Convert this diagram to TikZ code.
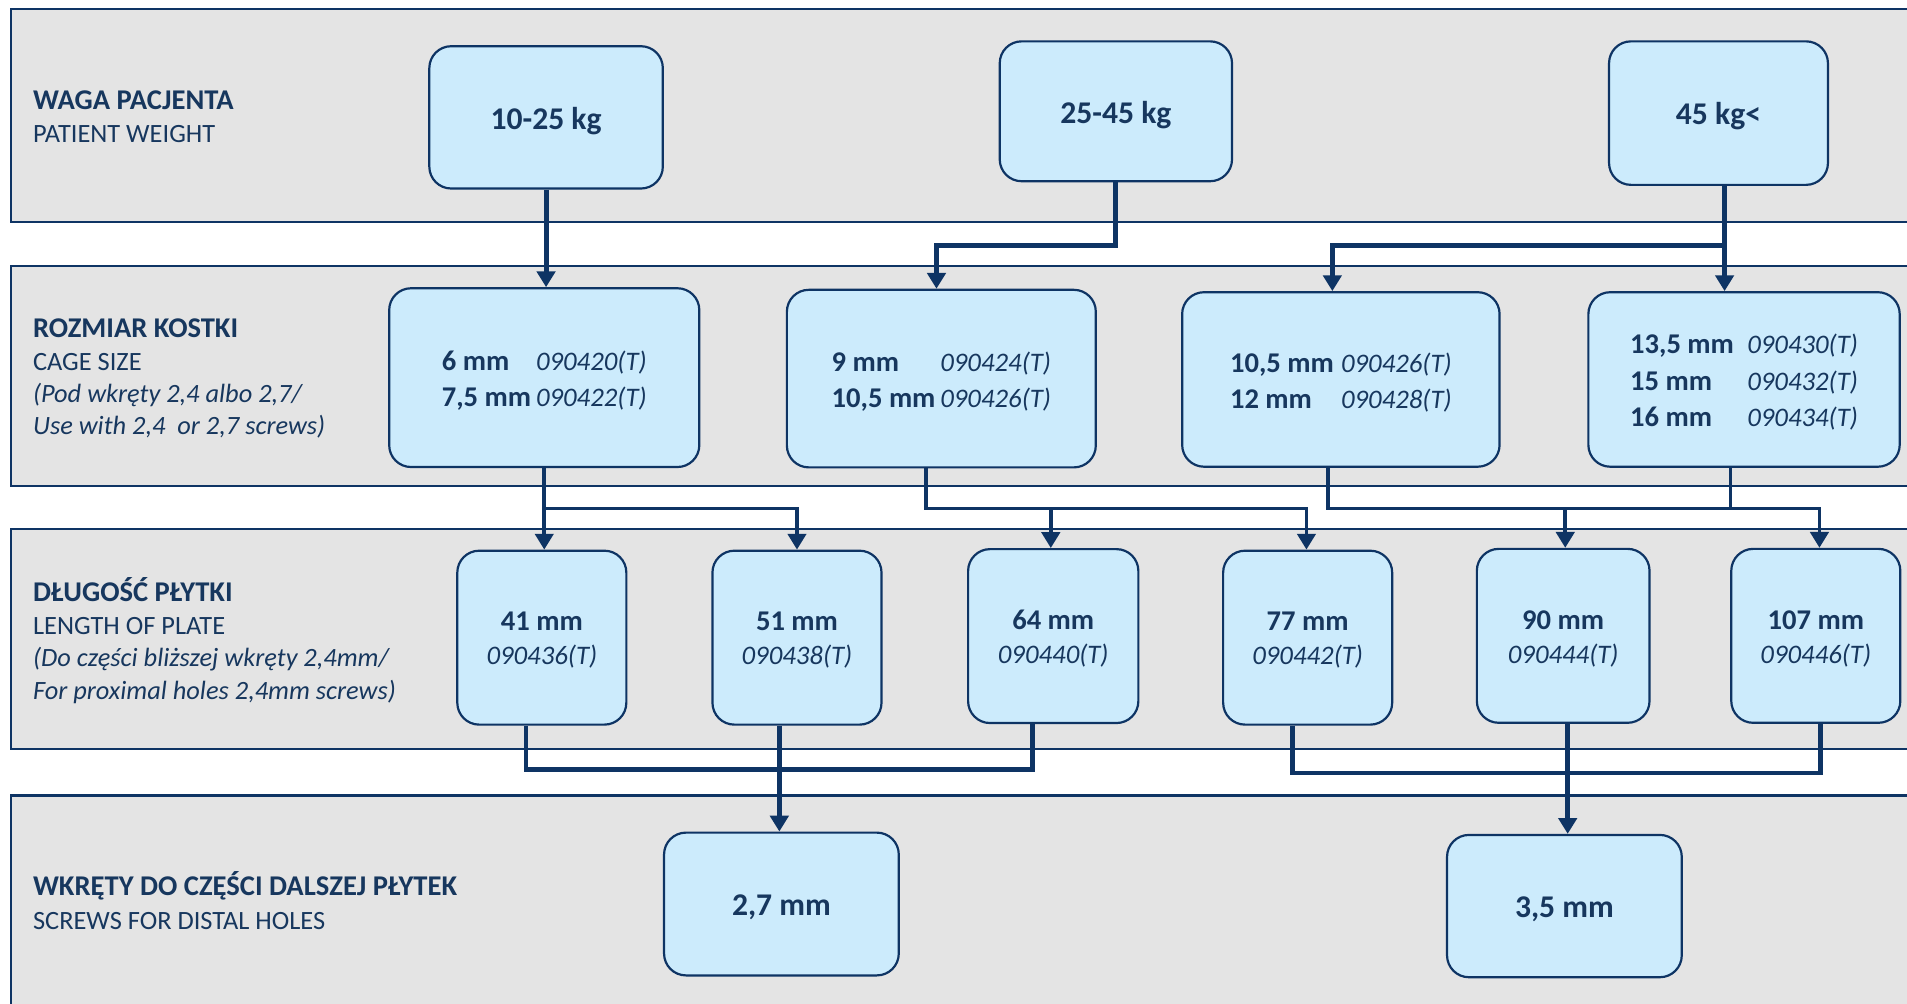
\documentclass[tikz,border=0pt]{standalone}
\usepackage{fontspec}
\setmainfont{Carlito}
\usetikzlibrary{arrows.meta}
\definecolor{lineblue}{RGB}{14,52,100}
\definecolor{txt}{RGB}{23,55,94}
\definecolor{boxfill}{RGB}{204,235,252}
\definecolor{bandfill}{RGB}{228,228,228}
\newcommand\fBig{\fontsize{26}{31}\selectfont\bfseries}
\newcommand\fMid{\fontsize{23.5}{29.75}\selectfont\bfseries}
\newcommand\fRow{\fontsize{23.5}{28}\selectfont\bfseries}
\newcommand\fCode{\fontsize{22}{28}\selectfont\mdseries\itshape}
\newcommand\fLabB{\fontsize{23.5}{27.5}\selectfont\bfseries}
\newcommand\fLabR{\fontsize{21.7}{27.5}\selectfont}
\newcommand\fLabI{\fontsize{21.7}{27.5}\selectfont\itshape}
\newcommand\lowr[1]{\raisebox{-2.8pt}[\height][\depth]{#1}}
\begin{document}
\begin{tikzpicture}[x=1pt,y=-1pt,
  band/.style={draw=lineblue, line width=2pt, fill=bandfill},
  box/.style={draw=lineblue, line width=1.8pt, fill=boxfill, rounded corners=18pt, text=txt, inner sep=0pt, align=center},
  topbox/.style={box, minimum width=192pt, minimum height=117pt, font=\fBig},
  midbox/.style={box, minimum width=256pt, minimum height=145pt, font=\fMid},
  lenbox/.style={box, minimum width=139pt, minimum height=143pt, font=\fRow},
  lab/.style={anchor=base west, inner sep=0pt, text=txt},
  c1/.style={draw=lineblue, line width=4.2pt},
  c2/.style={draw=lineblue, line width=3pt},
  c3/.style={draw=lineblue, line width=3.8pt},
  arr/.style={-{Triangle[length=13pt,width=15pt]}},
]
\useasboundingbox (0,0) rectangle (1568,825);
\clip (0,0) rectangle (1568,825);
% bands
\draw[band] (9,7.5) rectangle (1600,182.5);
\draw[band] (9,218.5) rectangle (1600,399.5);
\draw[band] (9,435) rectangle (1600,616);
\draw[band] (9,654) rectangle (1600,860);
% row labels
\node[lab, font=\fLabB] (L1a) at (27,89.8) {WAGA PACJENTA};
\node[lab, font=\fLabR] (L1b) at (27,117.3) {PATIENT WEIGHT};
\node[lab, font=\fLabB] (L2a) at (27,277.6) {ROZMIAR KOSTKI};
\node[lab, font=\fLabR] (L2b) at (27,304.5) {CAGE SIZE};
\node[lab, font=\fLabI] (L2c) at (27,331) {(Pod wkręty 2,4 albo 2,7/};
\node[lab, font=\fLabI] (L2d) at (27,357.3) {Use with 2,4\ \ or 2,7 screws)};
\node[lab, font=\fLabB] (L3a) at (27,494.5) {DŁUGOŚĆ PŁYTKI};
\node[lab, font=\fLabR] (L3b) at (27,521.5) {LENGTH OF PLATE};
\node[lab, font=\fLabI] (L3c) at (27,547.8) {(Do części bliższej wkręty 2,4mm/};
\node[lab, font=\fLabI] (L3d) at (27,575) {For proximal holes 2,4mm screws)};
\node[lab, font=\fLabB] (L4a) at (27,736.5) {WKRĘTY DO CZĘŚCI DALSZEJ PŁYTEK};
\node[lab, font=\fLabR] (L4b) at (27,764) {SCREWS FOR DISTAL HOLES};
% row 1
\node[topbox] (A1) at (449,96.5) {\lowr{10-25 kg}};
\node[topbox, minimum width=191pt, minimum height=115pt] (A2) at (917.5,91.5) {\lowr{25-45 kg}};
\node[topbox, minimum width=180pt, minimum height=118pt] (A3) at (1413,93) {\lowr{45 kg<}};
% row 2
\node[midbox, minimum width=255pt, minimum height=147pt] (B1) at (447.5,310.5)
  {\lowr{\begin{tabular}{@{}l@{\hspace{4pt}}l@{}}6 mm & \fCode 090420(T)\\ 7,5 mm & \fCode 090422(T)\end{tabular}}};
\node[midbox, minimum width=254pt, minimum height=146pt] (B2) at (774,311.3)
  {\lowr{\begin{tabular}{@{}l@{\hspace{4pt}}l@{}}9 mm & \fCode 090424(T)\\ 10,5 mm & \fCode 090426(T)\end{tabular}}};
\node[midbox, minimum width=261pt, minimum height=143.5pt] (B3) at (1102.5,312)
  {\lowr{\begin{tabular}{@{}l@{\hspace{6pt}}l@{}}10,5 mm & \fCode 090426(T)\\ 12 mm & \fCode 090428(T)\end{tabular}}};
\node[midbox, minimum width=256pt, minimum height=143.5pt] (B4) at (1434,312)
  {\lowr{\begin{tabular}{@{}l@{\hspace{11pt}}l@{}}13,5 mm & \fCode 090430(T)\\ 15 mm & \fCode 090432(T)\\ 16 mm & \fCode 090434(T)\end{tabular}}};
% row 3
\node[lenbox] (C1) at (445.5,524.3) {\lowr{\begin{tabular}{@{}c@{}}41 mm\\ \fCode 090436(T)\end{tabular}}};
\node[lenbox] (C2) at (655.3,524.3) {\lowr{\begin{tabular}{@{}c@{}}51 mm\\ \fCode 090438(T)\end{tabular}}};
\node[lenbox, minimum width=140pt] (C3) at (866,523) {\lowr{\begin{tabular}{@{}c@{}}64 mm\\ \fCode 090440(T)\end{tabular}}};
\node[lenbox] (C4) at (1075.2,524.3) {\lowr{\begin{tabular}{@{}c@{}}77 mm\\ \fCode 090442(T)\end{tabular}}};
\node[lenbox, minimum width=142pt] (C5) at (1285.3,522.8) {\lowr{\begin{tabular}{@{}c@{}}90 mm\\ \fCode 090444(T)\end{tabular}}};
\node[lenbox] (C6) at (1493,522.8) {\lowr{\begin{tabular}{@{}c@{}}107 mm\\ \fCode 090446(T)\end{tabular}}};
% row 4
\node[topbox, minimum width=193pt, minimum height=117.4pt] (D1) at (642.5,743.3) {\lowr{2,7 mm}};
\node[topbox, minimum width=193pt, minimum height=117pt] (D2) at (1286.3,745) {\lowr{3,5 mm}};
% connector helper points
\coordinate (r1) at (0,201.5);
\coordinate (r2) at (0,418);
\coordinate (r3a) at (0,632.5);
\coordinate (r3b) at (0,635.6);
\coordinate (b2in) at ([xshift=-4pt]B2.north);
\coordinate (a3out) at ([xshift=5pt]A3.south);
\coordinate (b3in) at ([xshift=-7pt]B3.north);
\coordinate (c1in) at (B1.south |- C1.north);
\coordinate (b2out) at ([xshift=-12.4pt]B2.south);
\coordinate (c3in) at ([xshift=-2pt]C3.north);
\coordinate (c4in) at ([xshift=-1pt]C4.north);
\coordinate (b3out) at ([xshift=-10.5pt]B3.south);
\coordinate (b4out) at ([xshift=-11pt]B4.south);
\coordinate (c5in) at ([xshift=1.7pt]C5.north);
\coordinate (c6in) at ([xshift=3pt]C6.north);
\coordinate (c1out) at ([xshift=-13pt]C1.south);
\coordinate (c2out) at ([xshift=-14.5pt]C2.south);
\coordinate (c3out) at ([xshift=-17pt]C3.south);
\coordinate (c4out) at ([xshift=-12.5pt]C4.south);
\coordinate (c5out) at ([xshift=3.7pt]C5.south);
\coordinate (c6out) at ([xshift=4pt]C6.south);
% row 1 -> row 2
\draw[c1,arr] (A1.south) -- (A1.south |- B1.north);
\draw[c1,arr] (A2.south) |- (b2in |- r1) -- (b2in);
\draw[c1,arr] (a3out) -- (a3out |- B4.north);
\draw[c1,arr] (a3out |- r1) -| (b3in);
% row 2 -> row 3
\draw[c2,arr] (B1.south) -- (c1in);
\draw[c2,arr] (B1.south |- r2) -| (C2.north);
\draw[c2,arr] (b2out) |- (c4in |- r2) -- (c4in);
\draw[c2,arr] (c3in |- r2) -- (c3in);
\draw[c2] (b3out) |- (b4out |- r2);
\draw[c2,arr] (b4out) |- (c6in |- r2) -- (c6in);
\draw[c2,arr] (c5in |- r2) -- (c5in);
% row 3 -> row 4
\draw[c3] (c1out) |- (c3out |- r3a) -- (c3out);
\draw[c3,arr] (c2out) -- (c2out |- D1.north);
\draw[c3] (c4out) |- (c6out |- r3b) -- (c6out);
\draw[c3,arr] (c5out) -- (c5out |- D2.north);
\end{tikzpicture}
\end{document}
